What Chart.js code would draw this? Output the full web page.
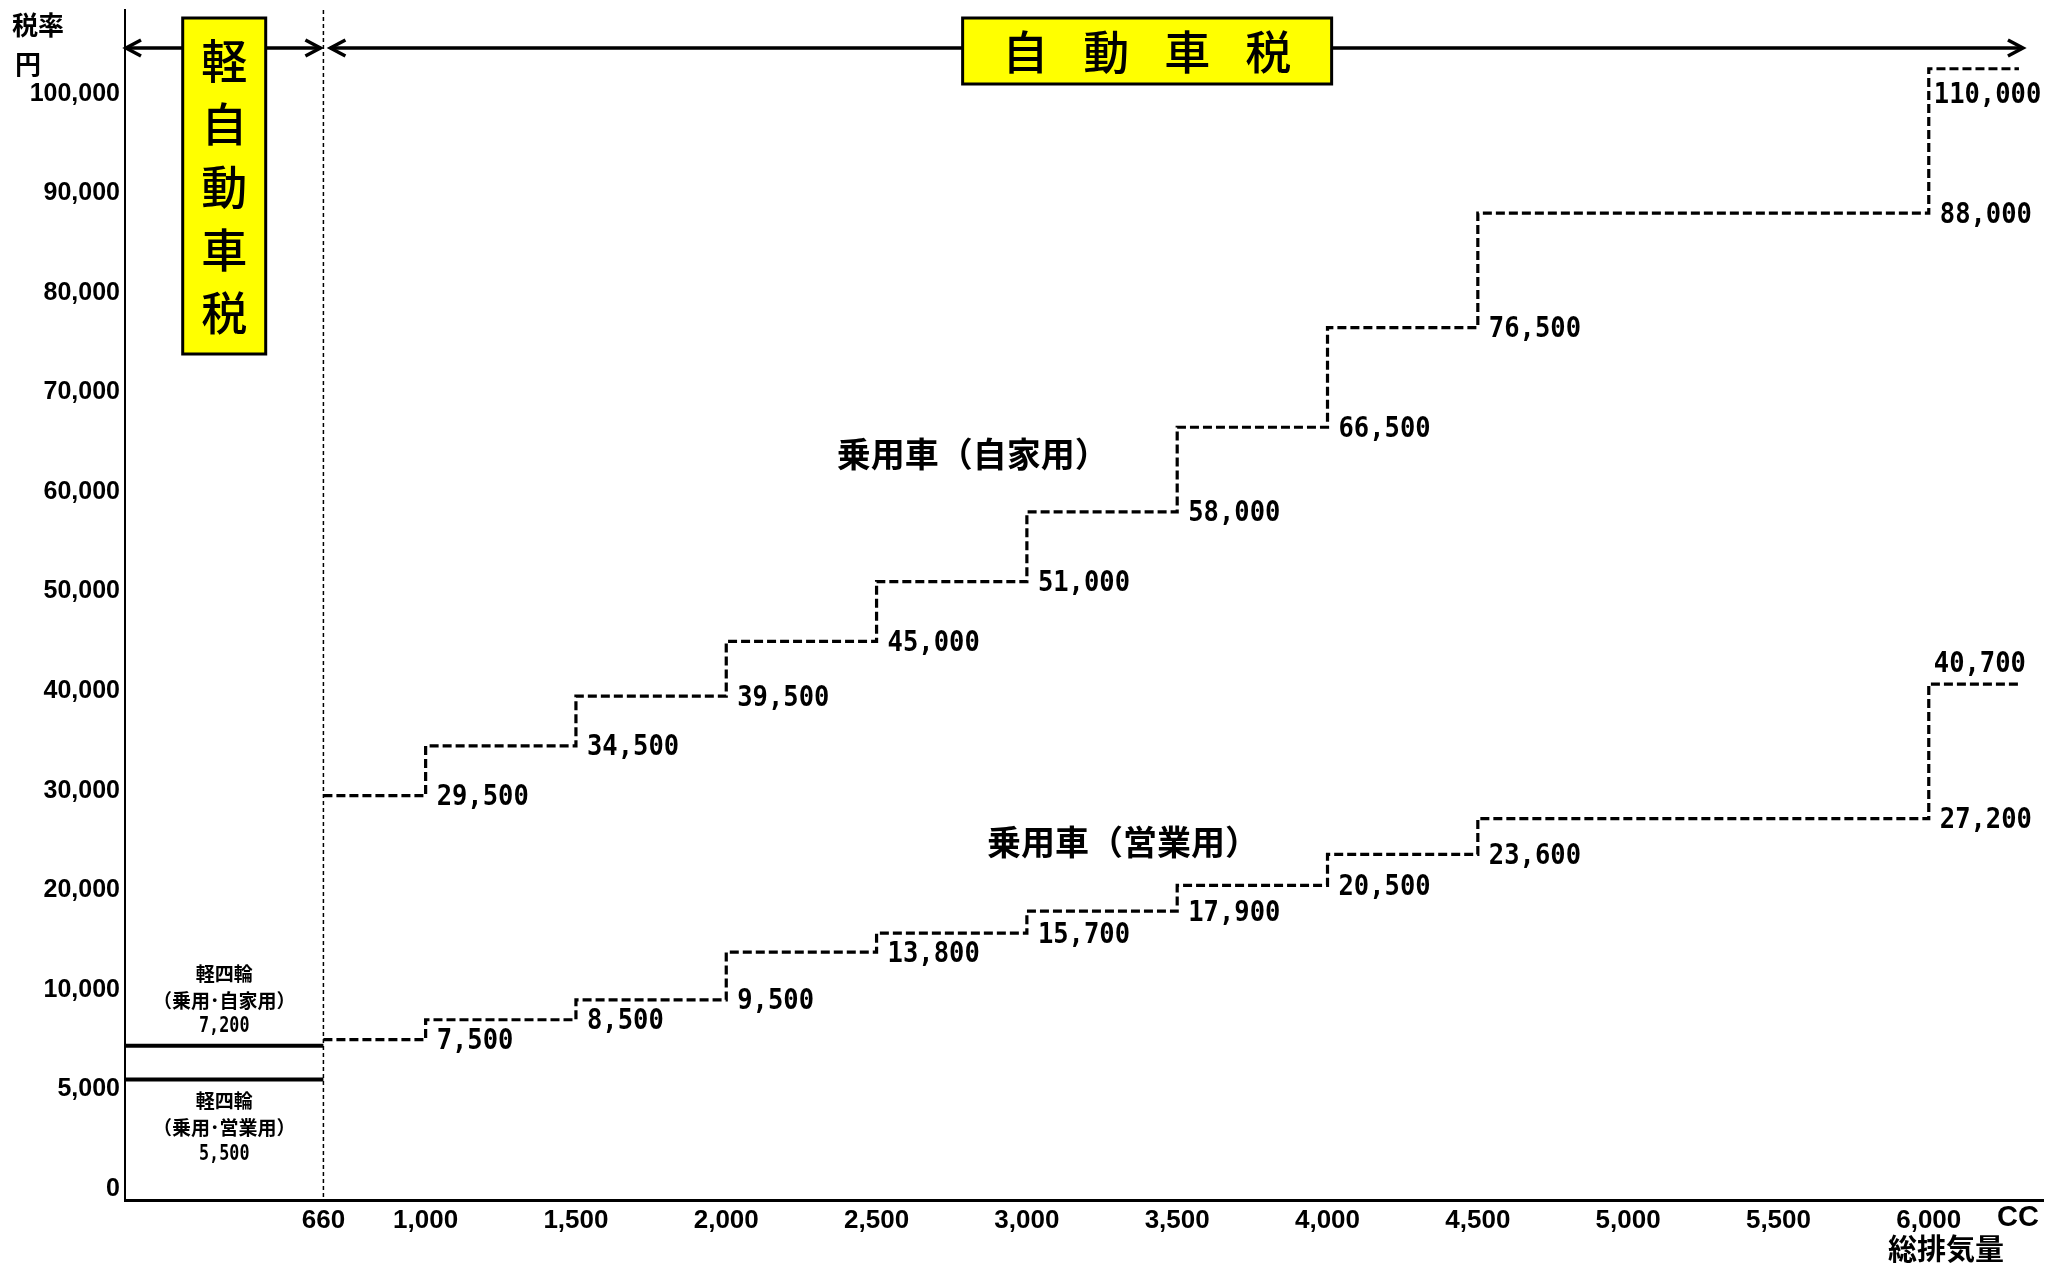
<!DOCTYPE html>
<html lang="ja">
<head>
<meta charset="utf-8">
<title>自動車税・軽自動車税の税率</title>
<script src="https://cdn.jsdelivr.net/npm/chart.js@4.4.1/dist/chart.umd.min.js"></script>
<style>
  html, body { margin: 0; padding: 0; background: #fff; }
  #wrap { width: 2047px; height: 1266px; position: relative; }
</style>
</head>
<body>
<div id="wrap"><canvas id="chart"></canvas></div>
<script>
// 総排気量の区分（各区分の下限 cc）と年税額（円）
const ccBreaks     = [660, 1000, 1500, 2000, 2500, 3000, 3500, 4000, 4500, 6000];
const ccEnd        = 6300;
const privateTax   = [29500, 34500, 39500, 45000, 51000, 58000, 66500, 76500, 88000, 110000];
const businessTax  = [7500, 8500, 9500, 13800, 15700, 17900, 20500, 23600, 27200, 40700];

// 軽自動車税（軽四輪）
const keiLimit       = 660;
const keiPrivateTax  = 7200;
const keiBusinessTax = 5500;

// 目盛
const xTicks = [660, 1000, 1500, 2000, 2500, 3000, 3500, 4000, 4500, 5000, 5500, 6000];
const yTicks = [0, 5000, 10000, 20000, 30000, 40000, 50000, 60000, 70000, 80000, 90000, 100000];

const privateName  = '乗用車（自家用）';
const businessName = '乗用車（営業用）';

const fmt = v => Number(v).toLocaleString('en-US');
const JP  = '"Noto Sans CJK JP", "Noto Sans", sans-serif';
const MONO = '"DejaVu Sans Mono", "Liberation Mono", monospace';
const SANS = '"Liberation Sans", Arial, sans-serif';

// 目盛を等間隔に並べる区分線形の縦軸（最上段の目盛より上は圧縮表示）
class SegmentedScale extends Chart.LinearScale {
  _stops() { return this.options.stops || yTicks; }
  _over() { return this.options.overflowStep || 40000; }
  _unit(v) {
    const s = this._stops(), n = s.length;
    if (v <= s[1]) return (v - s[0]) / (s[1] - s[0]);
    for (let i = 1; i < n - 1; i++) {
      if (v <= s[i + 1]) return i + (v - s[i]) / (s[i + 1] - s[i]);
    }
    return (n - 1) + (v - s[n - 1]) / this._over();
  }
  buildTicks() {
    return this._stops().map(v => ({ value: v }));
  }
  getPixelForValue(v) {
    if (v === null || v === undefined || isNaN(v)) return NaN;
    const u0 = this._unit(this.min), u1 = this._unit(this.max);
    return this.getPixelForDecimal((this._unit(v) - u0) / (u1 - u0));
  }
  getValueForPixel(px) {
    const s = this._stops(), n = s.length;
    const u0 = this._unit(this.min), u1 = this._unit(this.max);
    const u = u0 + this.getDecimalForPixel(px) * (u1 - u0);
    if (u <= 1) return s[0] + u * (s[1] - s[0]);
    if (u >= n - 1) return s[n - 1] + (u - (n - 1)) * this._over();
    const i = Math.floor(u);
    return s[i] + (u - i) * (s[i + 1] - s[i]);
  }
}
SegmentedScale.id = 'segmented';
SegmentedScale.defaults = Chart.LinearScale.defaults;
Chart.register(SegmentedScale);

const stepPoints = (vals) =>
  ccBreaks.map((x, i) => ({ x, y: vals[i] })).concat([{ x: ccEnd, y: vals[vals.length - 1] }]);

// 横方向に詰めた文字（等幅数字用）
function condensedText(ctx, text, x, y, sx) {
  ctx.save();
  ctx.translate(x, y);
  ctx.scale(sx, 1);
  ctx.fillText(text, 0, 0);
  ctx.restore();
}

// 注記・矢印・ラベルの描画
const overlay = {
  id: 'overlay',
  beforeDatasetsDraw(chart) {
    const { ctx, chartArea, scales: { x } } = chart;
    const px = x.getPixelForValue(keiLimit);
    ctx.save();
    ctx.strokeStyle = '#000';
    ctx.lineWidth = 1.5;
    ctx.setLineDash([4, 3]);
    ctx.beginPath();
    ctx.moveTo(px, chartArea.top);
    ctx.lineTo(px, chartArea.bottom);
    ctx.stroke();
    ctx.restore();
  },
  afterDraw(chart) {
    const { ctx, scales: { x, y } } = chart;
    const x0 = x.getPixelForValue(0);
    const xK = x.getPixelForValue(keiLimit);
    const xE = x.getPixelForValue(ccEnd);
    ctx.save();

    // 区分を示す矢印
    const arrowY = 48;
    const head = (tx, dir) => {
      ctx.beginPath();
      ctx.moveTo(tx + dir * 15, arrowY - 8);
      ctx.lineTo(tx, arrowY);
      ctx.lineTo(tx + dir * 15, arrowY + 8);
      ctx.stroke();
    };
    ctx.strokeStyle = '#000';
    ctx.lineWidth = 3.5;
    ctx.beginPath();
    ctx.moveTo(x0 + 1, arrowY); ctx.lineTo(xK - 3, arrowY);
    ctx.moveTo(xK + 7, arrowY); ctx.lineTo(xE + 4, arrowY);
    ctx.stroke();
    head(x0 + 1, 1); head(xK - 3, -1);
    head(xK + 7, 1); head(xE + 4, -1);

    // 見出しの枠
    const box = (cx, top, w, h) => {
      ctx.fillStyle = '#ffff00';
      ctx.fillRect(cx - w / 2, top, w, h);
      ctx.lineWidth = 3;
      ctx.strokeStyle = '#000';
      ctx.strokeRect(cx - w / 2, top, w, h);
    };
    const kcx = (x0 + xK) / 2;
    box(kcx, 18, 83, 336);
    ctx.fillStyle = '#000';
    ctx.font = `500 46px ${JP}`;
    ctx.textAlign = 'center';
    ctx.textBaseline = 'middle';
    ['軽', '自', '動', '車', '税'].forEach((c, i) => ctx.fillText(c, kcx, 61 + i * 63));

    const acx = x.getPixelForValue(3400);
    box(acx, 18, 369, 66);
    ctx.fillStyle = '#000';
    ['自', '動', '車', '税'].forEach((c, i) => ctx.fillText(c, acx - 122 + i * 81, 52));

    // 軸の見出し
    ctx.font = `bold 26px ${JP}`;
    ctx.textAlign = 'left';
    ctx.fillText('税率', 12, 25);
    ctx.fillText('円', 15, 64);
    ctx.font = `bold 29px ${SANS}`;
    ctx.textAlign = 'center';
    ctx.fillText('CC', 2018, 1218);
    ctx.font = `bold 29px ${JP}`;
    ctx.fillText('総排気量', 1946, 1249);

    // 税額ラベル
    const valueLabels = (vals, lastDy) => {
      ctx.font = `bold 29px ${MONO}`;
      ctx.textAlign = 'left';
      ctx.textBaseline = 'middle';
      const n = vals.length;
      for (let i = 0; i < n - 1; i++) {
        condensedText(ctx, fmt(vals[i]), x.getPixelForValue(ccBreaks[i + 1]) + 11, y.getPixelForValue(vals[i]) + 2, 0.88);
      }
      condensedText(ctx, fmt(vals[n - 1]), x.getPixelForValue(ccBreaks[n - 1]) + 5, y.getPixelForValue(vals[n - 1]) + lastDy, 0.88);
    };
    valueLabels(privateTax, 27);
    valueLabels(businessTax, -20);

    // 系列名
    ctx.font = `bold 34px ${JP}`;
    ctx.textAlign = 'center';
    ctx.fillText(privateName, x.getPixelForValue(2820), y.getPixelForValue(63800));
    ctx.fillText(businessName, x.getPixelForValue(3320), y.getPixelForValue(24800));

    // 軽四輪の注記
    const yP = y.getPixelForValue(keiPrivateTax);
    const yB = y.getPixelForValue(keiBusinessTax);
    ctx.font = `bold 19px ${JP}`;
    ctx.fillText('軽四輪', kcx, yP - 72);
    ctx.fillText('（乗用･自家用）', kcx, yP - 45);
    ctx.fillText('軽四輪', kcx, yB + 21);
    ctx.fillText('（乗用･営業用）', kcx, yB + 48);
    ctx.font = `bold 21px ${MONO}`;
    condensedText(ctx, fmt(keiPrivateTax), kcx, yP - 19, 0.8);
    condensedText(ctx, fmt(keiBusinessTax), kcx, yB + 75, 0.8);

    ctx.restore();
  }
};

const dashed = { borderColor: '#000', borderWidth: 3.2, borderDash: [9, 4], stepped: 'before',
                 pointRadius: 0, fill: false, borderCapStyle: 'butt' };

new Chart(document.getElementById('chart'), {
  type: 'line',
  data: {
    datasets: [
      Object.assign({ label: privateName,  data: stepPoints(privateTax) }, dashed),
      Object.assign({ label: businessName, data: stepPoints(businessTax) }, dashed),
      { label: '軽四輪（乗用・自家用）', data: [{ x: 0, y: keiPrivateTax }, { x: keiLimit, y: keiPrivateTax }],
        borderColor: '#000', borderWidth: 4, pointRadius: 0, fill: false },
      { label: '軽四輪（乗用・営業用）', data: [{ x: 0, y: keiBusinessTax }, { x: keiLimit, y: keiBusinessTax }],
        borderColor: '#000', borderWidth: 4, pointRadius: 0, fill: false }
    ]
  },
  options: {
    responsive: true,
    maintainAspectRatio: false,
    animation: false,
    events: [],
    layout: { padding: { top: 10, right: 4, left: 0, bottom: 0 } },
    plugins: { legend: { display: false }, tooltip: { enabled: false } },
    scales: {
      x: {
        type: 'linear',
        min: 0,
        max: 6380,
        afterBuildTicks: s => { s.ticks = xTicks.map(v => ({ value: v })); },
        afterFit: s => { s.height = 66; s.paddingLeft = 0; s.paddingRight = 0; },
        grid: { display: false, drawTicks: false },
        border: { display: true, color: '#000', width: 3 },
        ticks: { callback: v => fmt(v), autoSkip: false, maxRotation: 0, padding: 5, color: '#000',
                 font: { family: SANS, size: 26, weight: 'bold' } }
      },
      y: {
        type: 'segmented',
        stops: yTicks,
        overflowStep: 40000,
        min: -550,
        max: 133600,
        afterFit: s => { s.width = 125; s.paddingTop = 0; s.paddingBottom = 0; },
        grid: { display: false, drawTicks: false },
        border: { display: true, color: '#000', width: 2 },
        ticks: { callback: v => fmt(v), autoSkip: false, padding: 5, color: '#000',
                 font: { family: SANS, size: 25, weight: 'bold' } }
      }
    }
  },
  plugins: [overlay]
});
</script>
</body>
</html>
